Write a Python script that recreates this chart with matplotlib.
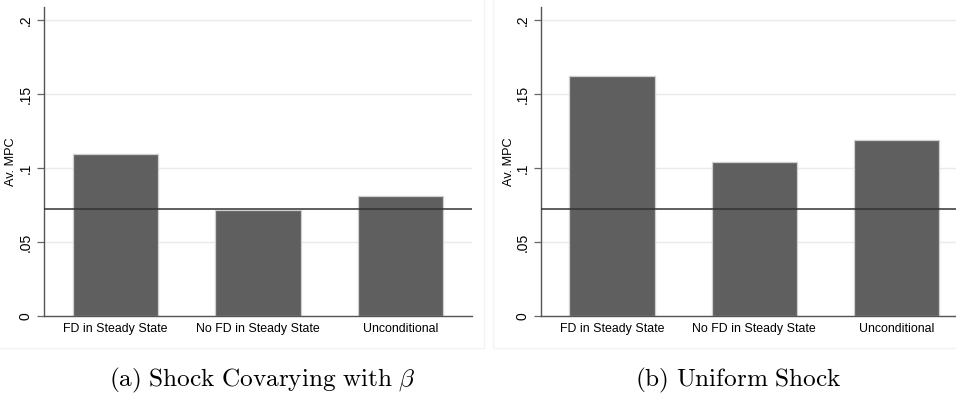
import matplotlib
matplotlib.use("Agg")
import numpy as np
from matplotlib import pyplot as plt

categories = ["FD in Steady State", "No FD in Steady State", "Unconditional"]
mpc_covarying = [0.1095, 0.0714, 0.0811]
mpc_uniform = [0.1624, 0.104, 0.119]
ref_line = 0.0721
yticks = [0, 0.05, 0.1, 0.15, 0.2]
ytick_labels = ["0", ".05", ".1", ".15", ".2"]
captions = [r"$\mathrm{(a)\ Shock\ Covarying\ with\ }\beta$",
            r"$\mathrm{(b)\ Uniform\ Shock}$"]

plt.rcParams['font.family'] = ['Liberation Sans', 'DejaVu Sans']
plt.rcParams['mathtext.fontset'] = 'cm'

W, H = 956, 396
fig = plt.figure(figsize=(W / 100, H / 100), dpi=100)

# faint graph-region boxes
for x0, x1 in [(-5, 484), (493, 961)]:
    fig.add_artist(plt.Rectangle((x0 / W, 1 - 348 / H), (x1 - x0) / W, 348 / H + 0.05,
                                 transform=fig.transFigure, fill=False,
                                 edgecolor='#f3f3f3', lw=1))


def panel(rect, values, xmax, caption, cx):
    ax = fig.add_axes(rect)
    x = np.arange(1, len(values) + 1)
    ax.bar(x, values, width=0.6, color='#5f5f5f', edgecolor='#cfcfcf', linewidth=0.9, zorder=2)
    ax.axhline(ref_line, color='#333333', lw=1.1, zorder=3)
    ax.set_xlim(0.5, xmax)
    ax.set_ylim(0, 0.2088)
    ax.set_yticks(yticks)
    ax.set_yticklabels(ytick_labels, rotation=90, va='center', fontsize=10)
    ax.set_xticks(x)
    ax.set_xticklabels(categories, fontsize=8.9)
    ax.tick_params(axis='x', length=0, pad=5)
    ax.tick_params(axis='y', length=5, color='#666666', width=0.9, pad=3)
    ax.yaxis.grid(True, color='#eaeaea', lw=1, zorder=0)
    ax.set_axisbelow(True)
    for s in ['top', 'right']:
        ax.spines[s].set_visible(False)
    for s in ['left', 'bottom']:
        ax.spines[s].set_color('#555555')
        ax.spines[s].set_linewidth(1)
    ax.set_ylabel("Av. MPC", fontsize=9.2, labelpad=1)
    fig.text(cx / W, 1 - 380 / H, caption, ha='center', va='center', fontsize=18.2)
    return ax


bottom = 1 - 316 / H
height = (316 - 7) / H
panel([44 / W, bottom, 428 / W, height], mpc_covarying, 3.5, captions[0], 262)
panel([541 / W, bottom, (956 - 541) / W, height], mpc_uniform, 3.42, captions[1], 738)

fig.savefig("out.png", dpi=100)
